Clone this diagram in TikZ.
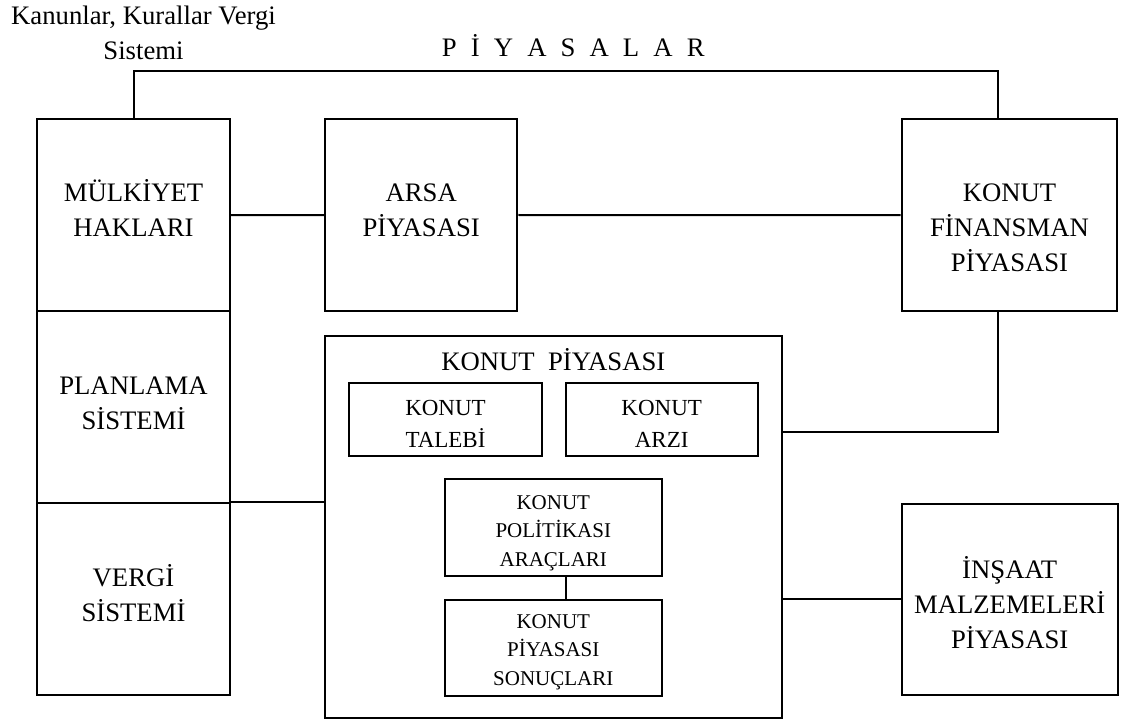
\documentclass[tikz,border=0pt]{standalone}
\usepackage{fontspec}
\setmainfont{Liberation Serif}
\begin{document}
\begin{tikzpicture}[x=1pt,y=-1pt,
  line width=2pt,
  frame/.style={draw=black, rectangle, inner sep=0pt},
  lbl/.style={inner sep=0pt, align=center, anchor=base},
  bigtxt/.style={lbl, font=\fontsize{26.7}{35}\selectfont},
  midtxt/.style={lbl, font=\fontsize{23}{32.7}\selectfont},
  smalltxt/.style={lbl, font=\fontsize{21}{28.3}\selectfont},
  link/.style={draw=black, line width=2pt}]
\useasboundingbox (0,0) rectangle (1131,719);

% heading texts (base = baseline of the last line)
\node[bigtxt] (law) at (143.5,59.3) {Kanunlar, Kurallar Vergi\\Sistemi};
\def\lg{\hspace{14.1pt}}
\node[bigtxt] (markets) at (573.3,56.7)
  {P\lg İ\lg Y\lg A\lg S\lg A\lg L\lg A\lg R};

% left column
\node[frame, minimum width=192.4pt, minimum height=192.3pt] (mulk) at (133.5,215.2) {};
\node[frame, minimum width=192.4pt, minimum height=192pt] (plan) at (133.5,407.3) {};
\node[frame, minimum width=192.4pt, minimum height=191.7pt] (vergi) at (133.5,599.2) {};
\node[bigtxt] (mulkT) at (mulk.center |- 0,236.7) {MÜLKİYET\\HAKLARI};
\node[bigtxt] (planT) at (plan.center |- 0,429) {PLANLAMA\\SİSTEMİ};
\node[bigtxt] (vergiT) at (vergi.center |- 0,621) {VERGİ\\SİSTEMİ};

% upper row
\node[frame, minimum width=192.3pt, minimum height=192pt] (arsa) at (421.2,215) {};
\node[frame, minimum width=215.6pt, minimum height=192.3pt] (fin) at (1009.5,215.2) {};
\node[bigtxt] (arsaT) at (arsa.center |- 0,236.7) {ARSA\\PİYASASI};
\node[bigtxt] (finT) at (fin.center |- 0,271.7) {KONUT\\FİNANSMAN\\PİYASASI};

% housing market
\node[frame, minimum width=456.7pt, minimum height=381.7pt] (kp) at (553.3,526.85) {};
\node[bigtxt] (kpT) at (553.3,370) {KONUT\ \ PİYASASI};
\node[frame, minimum width=192.4pt, minimum height=72.4pt] (talep) at (445.5,419.5) {};
\node[frame, minimum width=192pt, minimum height=72.4pt] (arz) at (661.7,419.5) {};
\node[midtxt] (talepT) at (talep.center |- 0,447.7) {KONUT\\TALEBİ};
\node[midtxt] (arzT) at (arz.center |- 0,447.7) {KONUT\\ARZI};
\node[frame, minimum width=216.7pt, minimum height=96.4pt] (pol) at (553.3,527.5) {};
\node[frame, minimum width=216.7pt, minimum height=95.7pt] (son) at (553.3,647.85) {};
\node[smalltxt] (polT) at (pol.center |- 0,566) {KONUT\\POLİTİKASI\\ARAÇLARI};
\node[smalltxt] (sonT) at (son.center |- 0,685) {KONUT\\PİYASASI\\SONUÇLARI};

% construction materials
\node[frame, minimum width=216pt, minimum height=191.3pt] (ins) at (1009.7,599.35) {};
\node[bigtxt] (insT) at (ins.center |- 0,648.3) {İNŞAAT\\MALZEMELERİ\\PİYASASI};

% connectors
\coordinate (topline) at (0,71);
\draw[link] (mulk.north) -- (mulk.north |- topline) -| ([xshift=-11.8pt]fin.north);
\draw[link] (mulk.east) -- (arsa.west);
\draw[link] (arsa.east) -- (fin.west);
\draw[link] ([xshift=-11.8pt]fin.south) |- ([yshift=94.85pt]kp.east);
\draw[link] (vergi.north east) -- (kp.west |- vergi.north east);
\draw[link] (ins.west) -- (kp.east |- ins.west);
\draw[link] ([xshift=12.4pt]pol.south) -- ([xshift=12.4pt]son.north);
\end{tikzpicture}
\end{document}
